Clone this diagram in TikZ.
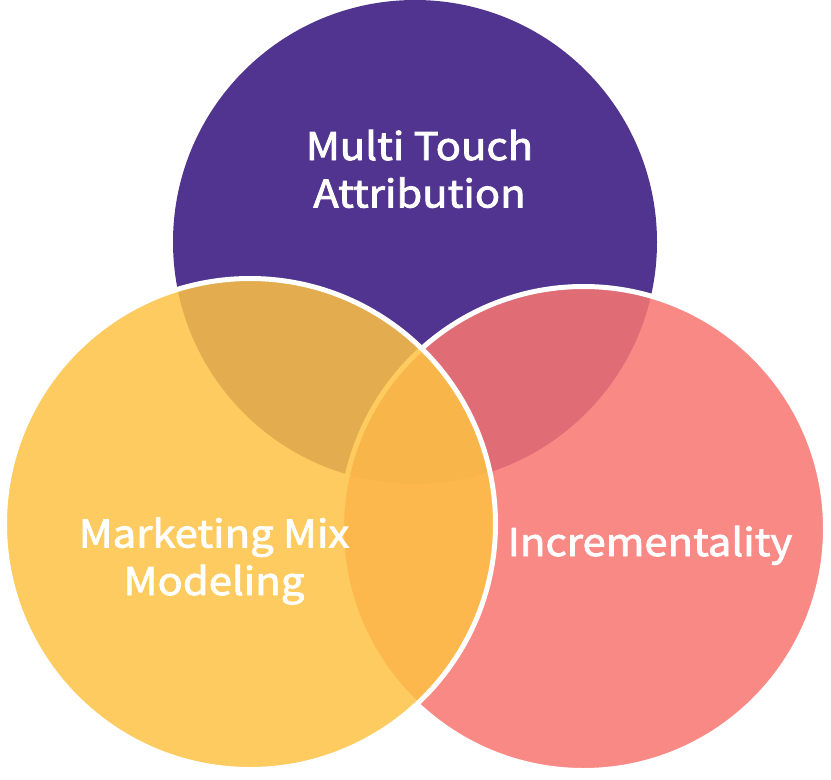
\documentclass[tikz,border=0pt]{standalone}
\usepackage{fontspec}
\newfontfamily\lab[FakeBold=2.2,FakeStretch=1.1]{Noto Sans CJK SC}
\definecolor{mtapurple}{RGB}{81,52,143}
\definecolor{incpink}{RGB}{248,118,113}
\definecolor{mmmyellow}{RGB}{253,194,67}
\tikzset{
  venn/.style={draw=white, line width=5pt, fill opacity=0.86},
  lbl/.style={text=white, font=\lab\fontsize{38}{47.5}\selectfont, align=center, inner sep=0pt}
}
\begin{document}
\begin{tikzpicture}[x=1pt,y=-1pt]
\useasboundingbox (0,0) rectangle (831,780);
\fill[mtapurple] (415,242) circle (242);
\draw[venn, fill=incpink] (583.5,528.5) circle (242);
\draw[venn, fill=mmmyellow, fill opacity=0.85] (250,524) circle (245.5);
\node[lbl, anchor=base] (mta) at (419.5,207.5) {Multi Touch\\Attribution};
\node[lbl, anchor=base] (mmm) at (214,595) {Marketing Mix\\Modeling};
\node[lbl, anchor=base] (inc) at (650,556) {Incrementality};
\end{tikzpicture}
\end{document}
